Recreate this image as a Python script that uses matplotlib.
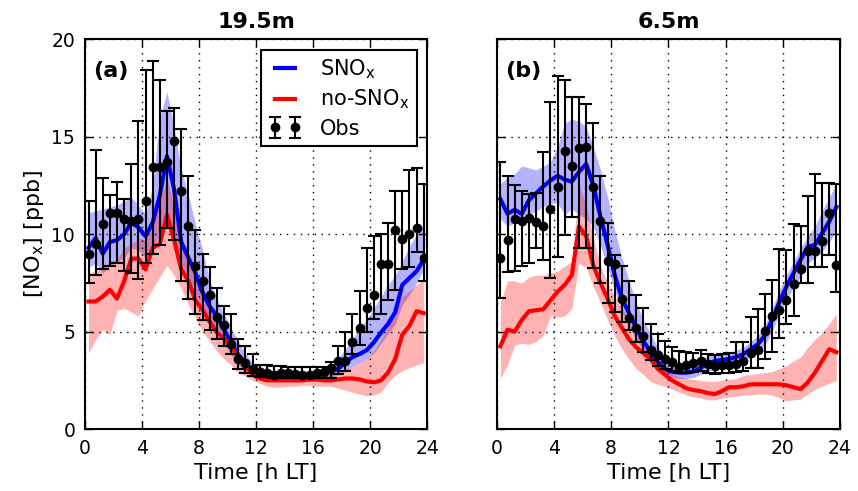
import matplotlib
matplotlib.use("Agg")
import matplotlib.pyplot as plt
import numpy as np

# half-hourly time axis [h LT]
hours = np.arange(48) * 0.5 + 0.25

# ---------------- panel (a): 19.5m ----------------
obs_a = [9.0, 9.5, 10.5, 11.1, 11.1, 10.8, 10.7, 10.8, 11.7, 13.45, 13.45, 13.7,
         14.8, 12.2, 10.4, 8.35, 7.6, 6.9, 5.75, 5.35, 4.35, 3.6, 3.4, 3.1,
         2.95, 2.9, 2.8, 2.9, 2.9, 2.85, 2.8, 2.8, 2.9, 2.95, 3.15, 3.5,
         3.5, 4.45, 5.2, 6.2, 6.9, 8.45, 8.45, 10.2, 9.75, 10.0, 10.3, 8.8]
obs_a_hi = [11.7, 14.3, 12.9, 12.0, 12.7, 11.8, 13.6, 15.8, 18.4, 18.9, 17.9, 16.3,
            16.5, 15.4, 13.0, 10.2, 9.0, 8.3, 7.25, 6.3, 5.9, 4.6, 4.25, 3.85,
            3.3, 3.3, 3.25, 3.25, 3.2, 3.2, 3.2, 3.2, 3.2, 3.2, 3.45, 4.25,
            5.0, 5.9, 7.1, 9.3, 9.9, 10.0, 10.6, 12.2, 12.2, 13.3, 13.4, 12.6]
obs_a_lo = [7.5, 7.9, 8.2, 8.35, 8.5, 8.1, 8.0, 7.7, 8.5, 9.0, 9.45, 10.3,
            9.7, 7.6, 6.7, 5.9, 5.6, 5.1, 4.6, 4.25, 3.85, 3.1, 2.9, 2.75,
            2.7, 2.65, 2.6, 2.6, 2.6, 2.6, 2.6, 2.6, 2.6, 2.6, 2.6, 2.85,
            3.0, 3.85, 4.3, 5.0, 5.65, 5.9, 6.65, 7.15, 8.2, 8.3, 9.1, 7.6]

sno_a = [9.3, 9.8, 9.0, 9.6, 9.7, 10.0, 10.6, 10.35, 9.9, 10.6, 12.0, 14.0,
         12.3, 9.6, 8.8, 8.0, 7.0, 6.3, 5.8, 5.1, 4.45, 3.8, 3.35, 3.0,
         2.8, 2.7, 2.65, 2.65, 2.7, 2.7, 2.75, 2.75, 2.8, 2.85, 2.95, 3.1,
         3.4, 3.7, 3.85, 4.05, 4.45, 4.95, 5.4, 6.0, 7.4, 7.75, 8.1, 8.7]
sno_a_hi = [11.1, 11.2, 11.3, 11.4, 11.5, 11.7, 11.9, 11.5, 11.0, 12.5, 16.0, 17.3,
            15.5, 13.3, 12.0, 10.5, 9.2, 7.6, 6.7, 5.9, 5.2, 4.5, 3.9, 3.4,
            3.2, 3.1, 3.0, 3.0, 3.0, 3.0, 3.0, 3.0, 3.0, 3.0, 3.2, 3.6,
            4.1, 4.6, 5.2, 5.6, 6.2, 6.8, 7.4, 7.9, 8.6, 9.4, 10.0, 10.5]
sno_a_lo = [8.3, 8.5, 8.0, 8.4, 8.6, 8.8, 9.3, 9.2, 8.8, 9.3, 10.0, 10.8,
            10.0, 8.4, 7.7, 6.9, 6.1, 5.5, 5.0, 4.4, 3.8, 3.3, 3.0, 2.75,
            2.6, 2.5, 2.45, 2.45, 2.45, 2.45, 2.45, 2.45, 2.45, 2.45, 2.6, 2.8,
            3.0, 3.2, 3.4, 3.6, 3.9, 4.4, 4.9, 5.4, 6.4, 6.9, 7.5, 8.2]

nosno_a = [6.55, 6.55, 6.8, 7.15, 6.7, 7.6, 8.75, 8.75, 8.2, 9.3, 9.5, 11.0,
           9.7, 8.2, 7.6, 6.6, 6.1, 5.5, 4.95, 4.65, 4.25, 3.7, 3.25, 2.8,
           2.6, 2.5, 2.5, 2.5, 2.5, 2.5, 2.5, 2.55, 2.55, 2.5, 2.5, 2.55,
           2.6, 2.6, 2.55, 2.45, 2.4, 2.5, 2.9, 3.6, 4.85, 5.3, 6.05, 5.95]
nosno_a_hi = [8.0, 8.1, 8.3, 8.6, 8.7, 9.3, 9.5, 9.8, 9.7, 10.5, 11.8, 12.8,
              11.5, 9.8, 9.0, 8.0, 7.3, 6.5, 5.8, 5.3, 4.7, 4.0, 3.6, 3.1,
              2.9, 2.8, 2.75, 2.75, 2.75, 2.75, 2.75, 2.75, 2.75, 2.75, 2.8, 2.9,
              3.1, 3.2, 3.4, 3.6, 4.0, 4.6, 5.2, 6.3, 6.8, 7.1, 7.4, 7.7]
nosno_a_lo = [3.9, 4.6, 5.1, 4.85, 6.1, 6.2, 6.0, 5.8, 6.6, 7.2, 7.8, 8.4,
              7.9, 7.2, 6.4, 5.7, 5.0, 4.5, 4.0, 3.6, 3.3, 2.9, 2.7, 2.5,
              2.35, 2.2, 2.15, 2.15, 2.2, 2.2, 2.25, 2.25, 2.2, 2.2, 2.2, 2.1,
              2.0, 1.9, 1.8, 1.7, 1.75, 1.9, 2.4, 2.75, 3.0, 3.15, 3.3, 3.4]

# ---------------- panel (b): 6.5m ----------------
obs_b = [8.8, 9.7, 10.8, 10.7, 10.85, 10.65, 10.4, 11.3, 12.4, 14.25, 13.5, 14.4,
         14.45, 12.4, 10.7, 8.6, 8.45, 6.7, 5.7, 5.2, 4.8, 4.05, 3.8, 3.6,
         3.45, 3.2, 3.3, 3.4, 3.5, 3.35, 3.25, 3.3, 3.3, 3.35, 3.5, 3.9,
         4.05, 5.05, 5.8, 6.1, 6.6, 7.45, 8.2, 9.15, 9.15, 9.65, 11.1, 8.4]
obs_b_hi = [13.7, 13.0, 12.55, 12.2, 12.05, 12.1, 14.2, 16.8, 18.1, 17.9, 17.05, 17.05,
            16.7, 15.7, 13.0, 10.6, 8.95, 8.35, 7.6, 6.9, 6.2, 5.4, 4.9, 4.5,
            4.2, 4.0, 3.95, 3.9, 4.05, 3.85, 3.8, 3.85, 3.9, 4.45, 4.45, 5.75,
            6.15, 6.95, 7.65, 9.25, 9.2, 10.5, 10.4, 11.95, 13.1, 12.65, 12.65, 12.6]
obs_b_lo = [6.75, 8.05, 8.1, 8.35, 8.5, 9.3, 8.7, 7.75, 8.85, 9.95, 10.9, 9.3,
            9.3, 8.25, 7.5, 6.45, 6.0, 5.5, 5.1, 4.45, 3.95, 3.55, 3.25, 3.1,
            3.0, 2.9, 2.9, 2.95, 3.0, 2.9, 2.85, 2.9, 2.9, 2.95, 3.0, 3.15,
            3.15, 3.6, 3.95, 4.7, 5.4, 5.8, 7.5, 7.5, 8.3, 8.3, 8.95, 7.05]

sno_b = [11.8, 11.05, 11.25, 11.05, 11.75, 12.1, 12.45, 12.75, 13.0, 12.8, 12.7, 13.2,
         13.6, 12.5, 10.9, 9.45, 7.9, 6.7, 5.95, 5.2, 4.5, 4.0, 3.45, 3.1,
         2.95, 2.9, 2.9, 2.95, 3.15, 3.35, 3.5, 3.55, 3.6, 3.7, 3.85, 4.1,
         4.35, 4.8, 5.6, 6.5, 7.3, 8.0, 8.7, 9.35, 9.45, 10.05, 10.65, 11.4]
sno_b_hi = [12.6, 12.9, 13.1, 13.5, 13.4, 13.3, 13.5, 13.7, 14.5, 15.7, 15.9, 15.8,
            15.5, 14.5, 13.3, 11.9, 10.2, 8.8, 7.6, 6.5, 5.6, 4.9, 4.2, 3.7,
            3.4, 3.3, 3.3, 3.4, 3.6, 3.75, 3.85, 3.9, 3.95, 4.05, 4.2, 4.5,
            4.8, 5.3, 6.2, 7.1, 7.9, 8.6, 9.3, 9.9, 10.4, 11.2, 11.9, 12.6]
sno_b_lo = [10.8, 10.4, 10.6, 10.6, 11.0, 11.2, 11.4, 11.6, 11.6, 11.0, 11.3, 11.0,
            10.8, 10.4, 9.4, 8.3, 7.1, 6.0, 5.3, 4.6, 4.0, 3.5, 3.1, 2.8,
            2.65, 2.6, 2.6, 2.65, 2.8, 2.95, 3.1, 3.2, 3.25, 3.3, 3.45, 3.7,
            3.95, 4.3, 5.0, 5.9, 6.6, 7.3, 7.85, 8.5, 8.8, 9.1, 9.6, 10.2]

nosno_b = [4.25, 5.1, 5.0, 5.6, 6.05, 6.1, 6.15, 6.6, 7.05, 7.4, 7.9, 10.4,
           9.9, 8.4, 7.5, 6.7, 5.8, 5.2, 4.6, 4.2, 3.9, 3.6, 3.1, 2.8,
           2.5, 2.3, 2.1, 2.0, 1.95, 1.85, 1.8, 1.95, 2.15, 2.15, 2.2, 2.3,
           2.3, 2.3, 2.3, 2.3, 2.25, 2.15, 2.05, 2.4, 2.9, 3.5, 4.1, 3.95]
nosno_b_hi = [6.5, 7.6, 7.6, 7.5, 7.8, 7.9, 7.9, 8.0, 8.1, 8.35, 8.6, 12.5,
              11.5, 9.8, 8.4, 7.5, 6.8, 6.2, 5.6, 4.8, 4.4, 3.9, 3.5, 3.2,
              2.85, 2.7, 2.6, 2.55, 2.5, 2.45, 2.45, 2.5, 2.55, 2.6, 2.75, 2.8,
              2.85, 2.9, 2.95, 3.1, 3.25, 3.5, 3.7, 4.2, 4.6, 4.95, 5.4, 5.9]
nosno_b_lo = [2.6, 3.3, 4.3, 4.4, 4.35, 4.5, 4.8, 5.8, 5.75, 5.8, 6.2, 8.5,
              8.3, 7.3, 6.5, 5.6, 4.8, 4.1, 3.6, 3.1, 2.8, 2.45, 2.3, 2.2,
              2.05, 1.9, 1.75, 1.65, 1.6, 1.5, 1.5, 1.6, 1.65, 1.7, 1.75, 1.75,
              1.8, 1.8, 1.75, 1.6, 1.45, 1.5, 1.55, 1.8, 2.05, 2.2, 2.35, 2.5]

titles = ["19.5m", "6.5m"]
panel_labels = ["(a)", "(b)"]
xticks = [0, 4, 8, 12, 16, 20, 24]
yticks = [0, 5, 10, 15, 20]

plt.rcParams['font.family'] = ['DejaVu Sans']
plt.rcParams['mathtext.default'] = 'regular'

fig = plt.figure(figsize=(8.58, 4.91), dpi=100)
ax_a = fig.add_axes([0.099, 0.126, 0.399, 0.794])
ax_b = fig.add_axes([0.579, 0.126, 0.400, 0.794])

panels = [
    (ax_a, obs_a, obs_a_lo, obs_a_hi, sno_a, sno_a_lo, sno_a_hi, nosno_a, nosno_a_lo, nosno_a_hi),
    (ax_b, obs_b, obs_b_lo, obs_b_hi, sno_b, sno_b_lo, sno_b_hi, nosno_b, nosno_b_lo, nosno_b_hi),
]

for k, (ax, obs, olo, ohi, sno, slo, shi, nsn, nlo, nhi) in enumerate(panels):
    obs = np.array(obs)
    yerr = [obs - np.array(olo), np.array(ohi) - obs]

    ax.fill_between(hours, slo, shi, color='blue', alpha=0.3, lw=0)
    ax.fill_between(hours, nlo, nhi, color='red', alpha=0.3, lw=0)
    ax.plot(hours, sno, color='blue', lw=3, label='SNO$_x$')
    ax.plot(hours, nsn, color='red', lw=3, label='no-SNO$_x$')
    ax.errorbar(hours, obs, yerr=yerr, fmt='o', color='black', ms=6,
                elinewidth=1.5, capsize=4, capthick=1.5, label='Obs', zorder=5)

    ax.set_xlim(0, 24)
    ax.set_ylim(0, 20)
    ax.set_xticks(xticks)
    ax.set_yticks(yticks)
    ax.grid(True, color='black', linestyle=(0, (1, 4)), linewidth=1.0)
    ax.tick_params(direction='in', top=True, right=True, length=6, width=1,
                   labelsize=13.5, pad=7)
    for s in ax.spines.values():
        s.set_linewidth(1.5)
    ax.set_xlabel('Time [h LT]', fontsize=16, labelpad=4)
    ax.set_title(titles[k], fontsize=16, fontweight='bold', pad=8)
    ax.text(0.025, 0.945, panel_labels[k], transform=ax.transAxes,
            fontsize=16, fontweight='bold', va='top', ha='left')

    if k == 0:
        ax.set_ylabel('[NO$_x$] [ppb]', fontsize=16)
        leg = ax.legend(loc='upper right', numpoints=2, fontsize=15,
                        fancybox=False, edgecolor='black', framealpha=1,
                        handlelength=1.6, handletextpad=0.9, borderaxespad=0.5,
                        labelspacing=0.35, borderpad=0.35)
        leg.get_frame().set_linewidth(1.5)
    else:
        ax.set_yticklabels([])

fig.savefig('out.png', dpi=100)
